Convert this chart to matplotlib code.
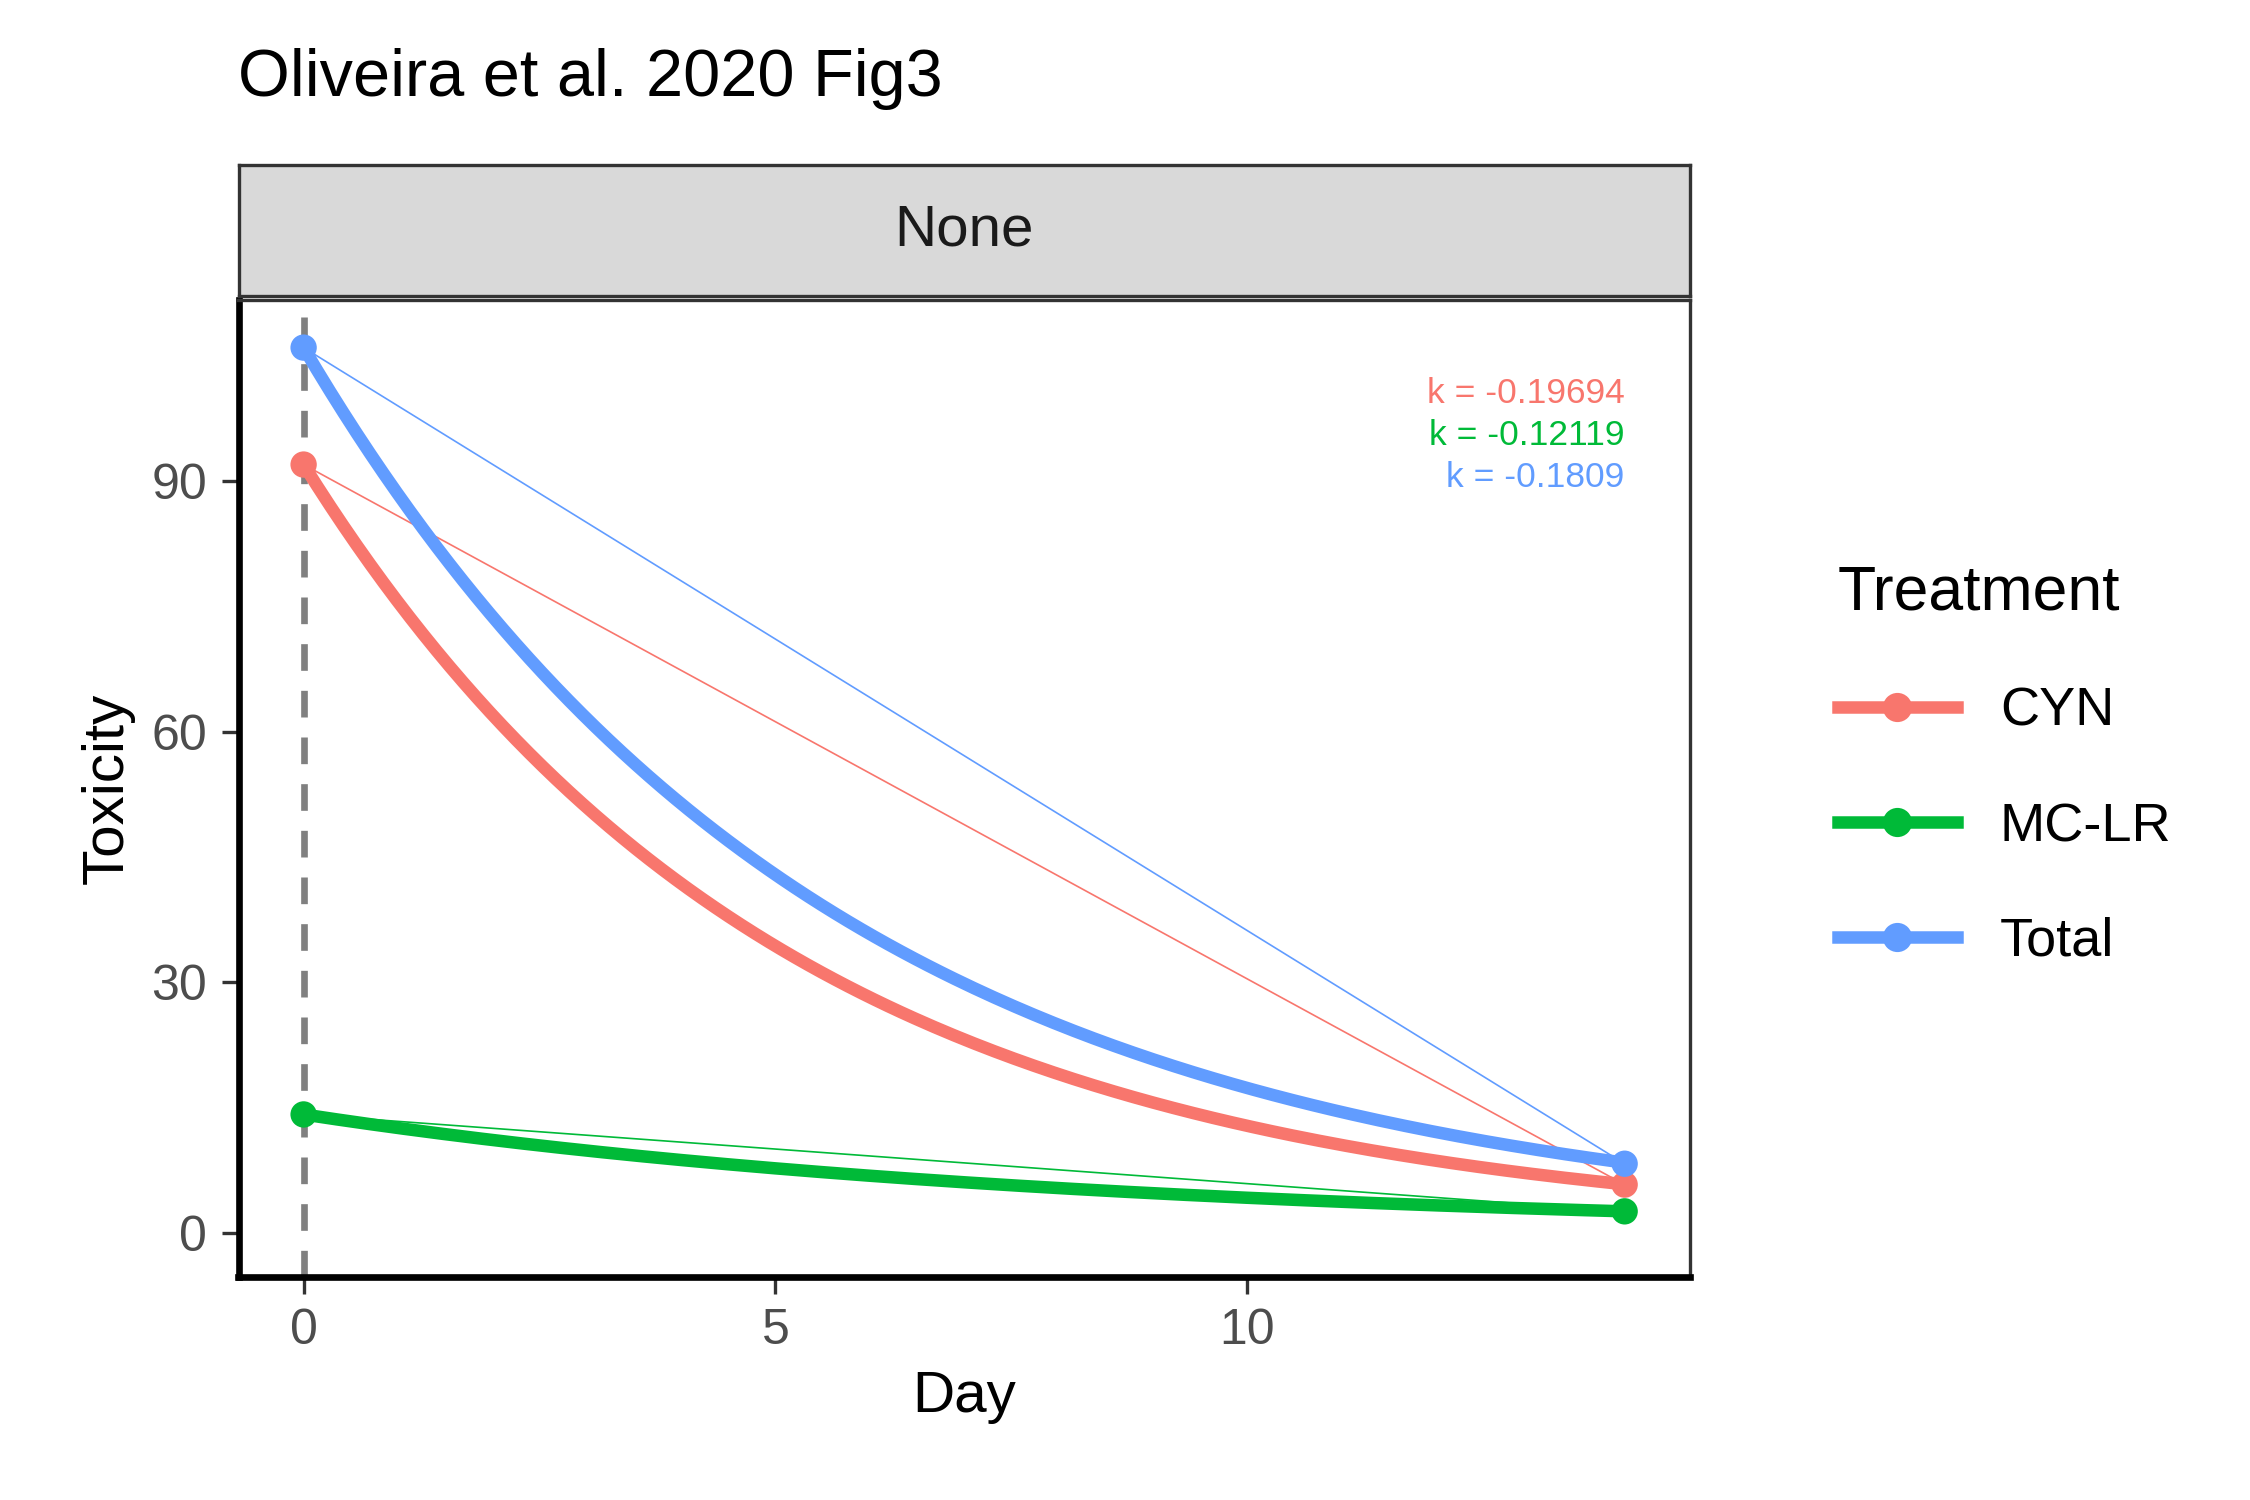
import numpy as np
import matplotlib.pyplot as plt
from matplotlib.lines import Line2D

plt.rcParams["font.family"] = ["Liberation Sans", "DejaVu Sans"]

treatments = ["CYN", "MC-LR", "Total"]
colors = ["#F8766D", "#00BA38", "#619CFF"]
days = [0, 14]
tox = {"CYN": [92.0, 5.8], "MC-LR": [14.2, 2.6], "Total": [106.0, 8.3]}
k_vals = {"CYN": -0.19694, "MC-LR": -0.12119, "Total": -0.1809}
k_labels = ["k = -0.19694", "k = -0.12119", "k = -0.1809"]

fig = plt.figure(figsize=(7.5, 5), dpi=300)
ax = fig.add_axes([0.106, 0.149, 0.645, 0.651])

ax.axvline(0, color="grey", ls=(0, (4, 3)), lw=1.6, zorder=1)
t = np.linspace(0, 14, 200)
for tr, c in zip(treatments, colors):
    y0 = tox[tr][0]
    ax.plot(t, y0 * np.exp(k_vals[tr] * t), color=c, lw=3, zorder=3)
    ax.plot(days, tox[tr], color=c, lw=0.4, zorder=2)
    ax.scatter(days, tox[tr], color=c, s=40, zorder=4, edgecolor="none")

for i, (lab, c) in enumerate(zip(k_labels, colors)):
    ax.text(14.0, 100.5 - i * 5, lab, color=c, fontsize=8.5, ha="right", va="center")

ax.set_xlim(-0.69, 14.69)
ax.set_ylim(-5.2, 111.7)
ax.set_xticks([0, 5, 10])
ax.set_yticks([0, 30, 60, 90])
ax.tick_params(labelsize=12, colors="#4D4D4D", length=4, width=0.8)
ax.tick_params(axis="both", color="#333333")
for s in ["top", "right"]:
    ax.spines[s].set_color("#333333")
    ax.spines[s].set_linewidth(0.8)
for s in ["left", "bottom"]:
    ax.spines[s].set_color("black")
    ax.spines[s].set_linewidth(1.6)
ax.set_xlabel("Day", fontsize=14)
ax.set_ylabel("Toxicity", fontsize=14)

# facet strip
sax = fig.add_axes([0.106, 0.803, 0.645, 0.087])
sax.set_xticks([]); sax.set_yticks([])
sax.set_facecolor("#D9D9D9")
for s in sax.spines.values():
    s.set_color("#333333"); s.set_linewidth(0.8)
sax.text(0.5, 0.5, "None", ha="center", va="center", fontsize=14, color="#1A1A1A")

fig.text(0.106, 0.947, "Oliveira et al. 2020 Fig3", fontsize=16, va="center")

handles = [Line2D([0], [0], color=c, lw=3, marker="o", markersize=6) for c in colors]
leg = fig.legend(handles, treatments, title="Treatment", loc="center left",
                 bbox_to_anchor=(0.795, 0.49), frameon=False, fontsize=13,
                 title_fontsize=15, handlelength=2.2, labelspacing=1.2)
leg._legend_box.align = "left"

fig.savefig("out.png", dpi=300)
